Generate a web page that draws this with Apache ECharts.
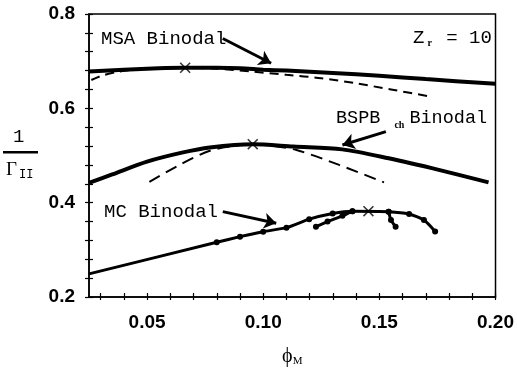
<!DOCTYPE html>
<html>
<head>
<meta charset="utf-8">
<script src="https://cdn.jsdelivr.net/npm/echarts@6/dist/echarts.min.js"></script>
<style>html,body{margin:0;padding:0;background:#fff}#c{width:517px;height:381px}</style>
</head>
<body>
<div id="c"></div>
<script>
// ---- data (phi_M, 1/Gamma_II) ----
const msaBinodal = [[0.025,0.678],[0.04,0.682],[0.055,0.685],[0.066,0.686],[0.08,0.686],[0.09,0.685],[0.10,0.682],[0.11,0.680],[0.13,0.675],[0.15,0.669],[0.17,0.662],[0.20,0.652]];
const msaSpinodal = [[0.026,0.660],[0.031,0.670],[0.038,0.678],[0.05,0.684],[0.066,0.686],[0.08,0.684],[0.095,0.678],[0.11,0.671],[0.125,0.664],[0.14,0.653],[0.155,0.640],[0.172,0.625]];
const bspbBinodal = [[0.025,0.442],[0.035,0.460],[0.05,0.487],[0.065,0.506],[0.077,0.517],[0.0955,0.524],[0.113,0.519],[0.134,0.513],[0.154,0.494],[0.176,0.469],[0.197,0.443]];
const bspbSpinodal = [[0.051,0.444],[0.064,0.480],[0.077,0.510],[0.088,0.521],[0.0955,0.524],[0.10,0.523],[0.114,0.512],[0.1327,0.480],[0.152,0.443]];
const mcBinodal = [[0.025,0.249],[0.08,0.316],[0.09,0.328],[0.10,0.3385],[0.11,0.347],[0.1198,0.365],[0.1299,0.377],[0.1384,0.382],[0.154,0.381],[0.1628,0.376],[0.1692,0.363],[0.174,0.339]];
const mcBranchLeft = [[0.1227,0.349],[0.1277,0.360],[0.1341,0.372],[0.1384,0.382]];
const mcBranchRight = [[0.157,0.349],[0.155,0.363],[0.154,0.381]];
const criticalPoints = [[0.0664,0.686],[0.0955,0.524],[0.1453,0.382]];
const arrows = [
  [[0.0826,0.748],[0.1034,0.6955]],
  [[0.1528,0.5505],[0.1341,0.5223]],
  [[0.0826,0.381],[0.1056,0.3563]]
];
const xTickValues = [0.03,0.04,0.05,0.06,0.07,0.08,0.09,0.10,0.11,0.12,0.13,0.14,0.15,0.16,0.17,0.18,0.19,0.20];
const xLabelValues = [0.05,0.10,0.15,0.20];
const yTickValues = [0.2,0.24,0.28,0.32,0.36,0.4,0.44,0.48,0.52,0.56,0.6,0.64,0.68,0.72,0.76,0.8];
const yLabelValues = [0.2,0.4,0.6,0.8];

const chart = echarts.init(document.getElementById('c'));
const mono = '"Liberation Mono", "Courier New", monospace';
const serif = '"Liberation Serif", "DejaVu Serif", serif';
const labelFont = {fontFamily:'"Liberation Sans", Arial, sans-serif', fontWeight:'bold', fontSize:19, color:'#000'};
const X_MIN = 0.025, X_MAX = 0.2, Y_MIN = 0.2, Y_MAX = 0.8;

const xPath = 'path://M0,1L1,0L5,4L9,0L10,1L6,5L10,9L9,10L5,6L1,10L0,9L4,5Z';

chart.setOption({
  animation: false,
  backgroundColor: '#fff',
  grid: {left: 89, right: 19.5, top: 14, bottom: 84, show: true, borderColor: '#000', borderWidth: 1.5, backgroundColor: 'transparent'},
  xAxis: [
    {type:'value', min:X_MIN, max:X_MAX, position:'bottom',
     axisLine:{onZero:false, lineStyle:{color:'#000', width:1.5}},
     splitLine:{show:false},
     axisTick:{customValues:xTickValues, inside:true, length:4, lineStyle:{color:'#000', width:1.2}},
     axisLabel:Object.assign({customValues:xLabelValues, formatter:v=>v.toFixed(2), margin:16}, labelFont),
     name:'{a|ϕ}{b|M}', nameLocation:'middle', nameGap:50,
     nameTextStyle:{rich:{a:{fontFamily:serif, fontSize:20, color:'#000'}, b:{fontFamily:serif, fontSize:11, color:'#000', padding:[8,0,0,0]}}}
    },
    {type:'value', min:X_MIN, max:X_MAX, position:'bottom',
     axisLine:{show:false, onZero:false}, splitLine:{show:false},
     axisTick:{customValues:xTickValues, inside:false, length:3, lineStyle:{color:'#000', width:1.2}},
     axisLabel:{show:false}}
  ],
  yAxis: [
    {type:'value', min:Y_MIN, max:Y_MAX, interval:0.2, position:'left',
     axisLine:{show:true, onZero:false, lineStyle:{color:'#000', width:1.5}},
     splitLine:{show:false},
     axisTick:{customValues:yTickValues, inside:true, length:4, lineStyle:{color:'#000', width:1.2}},
     axisLabel:Object.assign({customValues:yLabelValues, formatter:v=>v.toFixed(1), margin:14}, labelFont)
    },
    {type:'value', min:Y_MIN, max:Y_MAX, interval:0.2, position:'left',
     axisLine:{show:false, onZero:false}, splitLine:{show:false},
     axisTick:{customValues:yTickValues, inside:false, length:4, lineStyle:{color:'#000', width:1.2}},
     axisLabel:{show:false}}
  ],
  series: [
    {type:'line', data:msaBinodal, smooth:0.3, showSymbol:false, lineStyle:{color:'#000', width:4},
     markLine:{silent:true, symbol:['none','arrow'], symbolSize:12, label:{show:false},
       lineStyle:{color:'#000', width:3, type:'solid'},
       data: arrows.map(a=>[{coord:a[0]},{coord:a[1]}])}},
    {type:'line', data:msaSpinodal, smooth:0.3, showSymbol:false, lineStyle:{color:'#000', width:2, type:[9,6]}},
    {type:'line', data:bspbBinodal, smooth:0.3, showSymbol:false, lineStyle:{color:'#000', width:4}},
    {type:'line', data:bspbSpinodal, smooth:0.3, showSymbol:false, lineStyle:{color:'#000', width:2, type:[12,7]}},
    {type:'line', data:mcBinodal.map((p,i)=>i===0?{value:p, symbol:'none'}:p), smooth:0.2, symbol:'circle', symbolSize:6, showSymbol:true,
     itemStyle:{color:'#000'}, lineStyle:{color:'#000', width:3}},
    {type:'line', data:mcBranchLeft, smooth:0.2, symbol:'circle', symbolSize:6, itemStyle:{color:'#000'}, lineStyle:{color:'#000', width:3}},
    {type:'line', data:mcBranchRight, smooth:0.2, symbol:'circle', symbolSize:6, itemStyle:{color:'#000'}, lineStyle:{color:'#000', width:3}},
    {type:'scatter', data:criticalPoints, symbol:xPath, symbolSize:11, itemStyle:{color:'#000'}, z:5}
  ],
  graphic: [
    {type:'text', left:101, top:29, style:{text:'MSA Binodal', font:'19px '+mono, fill:'#000'}},
    {type:'text', left:413, top:28, style:{text:'Z{s|r} = 10', font:'19px '+mono, fill:'#000',
      rich:{s:{fontFamily:serif, fontWeight:'bold', fontSize:10, padding:[12,3,0,3]}}}},
    {type:'text', left:336, top:109, style:{text:'BSPB{s|ch}Binodal', font:'18.5px '+mono, fill:'#000',
      rich:{s:{fontFamily:serif, fontWeight:'bold', fontSize:10, padding:[14,5,0,14]}}}},
    {type:'text', left:104, top:202, style:{text:'MC Binodal', font:'19px '+mono, fill:'#000'}},
    {type:'text', left:13, top:127, style:{text:'1', font:'19px '+mono, fill:'#000'}},
    {type:'rect', shape:{x:3, y:151, width:35, height:2.5}, style:{fill:'#000'}},
    {type:'text', left:6, top:161, style:{text:'Γ{s|II}', font:'19px '+serif, fill:'#000',
      rich:{s:{fontFamily:mono, fontSize:12, padding:[8,0,0,2]}}}}
  ]
});
</script>
</body>
</html>
